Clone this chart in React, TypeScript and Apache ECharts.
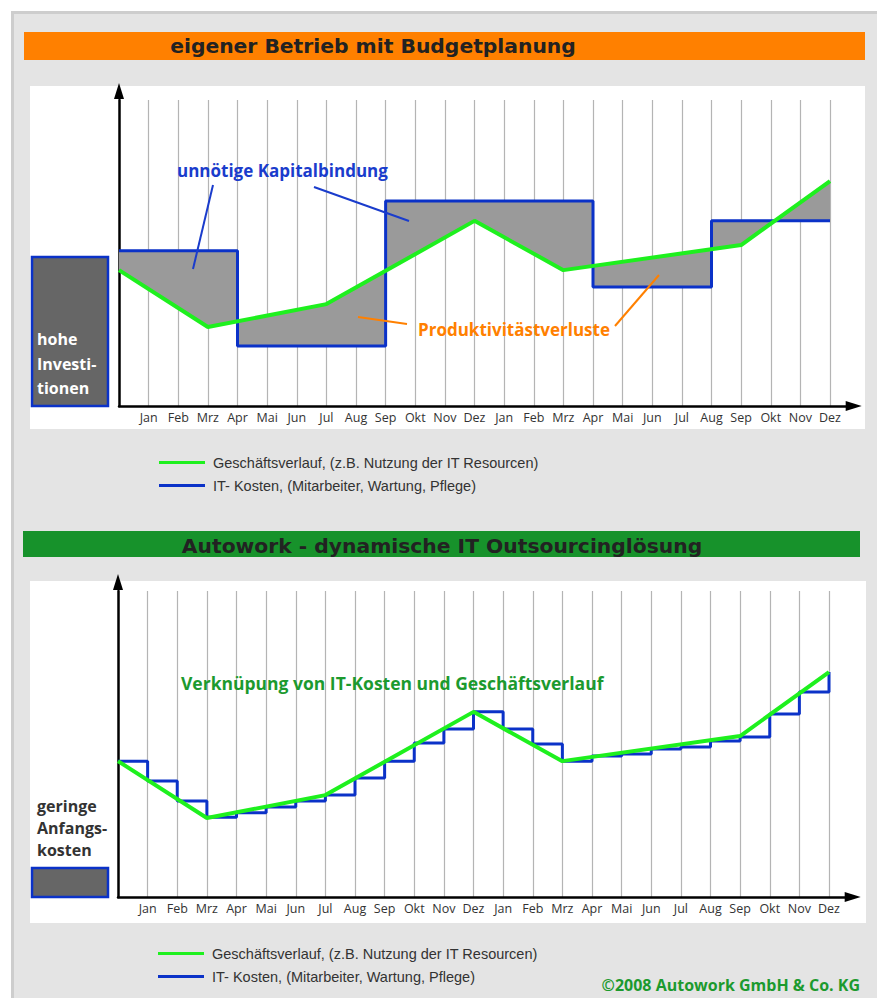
import React, { useEffect, useRef } from 'react';
import * as echarts from 'echarts';

// ---- data ----
const months = ['Jan', 'Feb', 'Mrz', 'Apr', 'Mai', 'Jun', 'Jul', 'Aug', 'Sep', 'Okt', 'Nov', 'Dez'];
const monthLabels = [...months, ...months];

// Geschäftsverlauf (same curve in both charts): month index -> level
const trendX = [0, 3, 7, 12, 15, 21, 24];
const trendY = [44.4, 25.8, 33.3, 60.5, 44.4, 52.6, 73.5];

// IT-Kosten with budget planning (step levels starting at given month index)
const budgetX = [0, 4, 9, 16, 20, 24];
const budgetY = [50.7, 19.6, 67.0, 38.9, 60.5, 60.5];

// IT-Kosten with Autowork (monthly steps, index 0..24)
const dynamicY = [44.4, 37.9, 31.4, 26.1, 27.5, 29.4, 31.4, 33.3, 38.9, 44.4, 50.3, 54.9, 60.5,
  54.9, 50.0, 44.4, 46.1, 46.7, 48.4, 49.0, 51.0, 52.3, 59.8, 67.0, 73.5];

const nameTrend = 'Geschäftsverlauf, (z.B. Nutzung der IT Resourcen)';
const nameCost = 'IT- Kosten, (Mitarbeiter, Wartung, Pflege)';

const GREEN = '#1ef01e';
const BLUE = '#0b32c8';
const ORANGE = '#ff8000';
const FONT = '"Open Sans", "DejaVu Sans", sans-serif';
const TFONT = '"DejaVu Sans", "Open Sans", sans-serif';

const X_MAX = 24.8;
const UNIT = 29.625;

function makeX(gridIndex: number) {
  return {
    type: 'value', gridIndex, min: 0, max: X_MAX, interval: 1,
    axisLine: {
      show: true, onZero: false,
      lineStyle: { color: '#000', width: 2.5 },
      symbol: ['none', 'triangle'], symbolSize: [10, 16], symbolOffset: [0, 0],
    },
    axisTick: { show: false },
    splitLine: { show: true, showMinLine: false, showMaxLine: false, lineStyle: { color: '#b4b4b4', width: 1.2 } },
    axisLabel: {
      color: '#333', fontSize: 12.5, fontFamily: FONT, margin: 5,
      formatter: (v: number) => (Number.isInteger(v) && v >= 1 && v <= 24 ? monthLabels[v - 1] : ''),
    },
  };
}
function makeY(gridIndex: number) {
  return {
    type: 'value', gridIndex, min: 0, max: 100,
    axisLine: {
      show: true, onZero: false,
      lineStyle: { color: '#000', width: 2.5 },
      symbol: ['none', 'triangle'], symbolSize: [10, 16], symbolOffset: [0, 9],
    },
    axisTick: { show: false }, axisLabel: { show: false }, splitLine: { show: false },
  };
}

function txt(text: string, x: number, y: number, font: string, fill: string, align = 'left', z = 100) {
  return {
    type: 'text', z, x: 0, y: 0,
    style: { text, x, y, font, fill, align, verticalAlign: 'middle', textAlign: align, textVerticalAlign: 'middle' },
  };
}
function rect(x: number, y: number, w: number, h: number, fill: string, z = -10, stroke?: string, lw = 0) {
  return { type: 'rect', z, shape: { x, y, width: w, height: h }, style: stroke ? { fill, stroke, lineWidth: lw } : { fill } };
}
function ln(x1: number, y1: number, x2: number, y2: number, stroke: string, lw = 2) {
  return { type: 'line', z: 100, shape: { x1, y1, x2, y2 }, style: { stroke, lineWidth: lw } };
}

export default function App() {
  const ref = useRef<HTMLDivElement>(null);
  useEffect(() => {
    const chart = echarts.init(ref.current!, null, { renderer: 'svg' });

    const fillPts: number[][] = [];
    for (let i = 0; i < budgetX.length - 1; i++) {
      fillPts.push([budgetX[i], budgetY[i]]);
      fillPts.push([budgetX[i + 1], budgetY[i]]);
    }
    fillPts.push([budgetX[budgetX.length - 1], budgetY[budgetY.length - 1]]);
    for (let i = trendX.length - 1; i >= 0; i--) fillPts.push([trendX[i], trendY[i]]);

    const trendData = trendX.map((x, i) => [x, trendY[i]]);

    const legendBase = {
      orient: 'vertical', itemWidth: 46, itemHeight: 3, itemGap: 8, icon: 'rect', selectedMode: false,
      data: [nameTrend, nameCost],
      textStyle: { fontFamily: '"Liberation Sans", Arial, sans-serif', fontSize: 14.5, color: '#333', lineHeight: 14, padding: [0, 0, 0, 3] },
    };

    const option: any = {
      animation: false,
      backgroundColor: '#ffffff',
      grid: [
        { left: 119, top: 100, width: X_MAX * UNIT, height: 306 },
        { left: 118, top: 591, width: X_MAX * UNIT, height: 306 },
      ],
      xAxis: [makeX(0), makeX(1)],
      yAxis: [makeY(0), makeY(1)],
      legend: [
        { ...legendBase, left: 154, top: 450 },
        { ...legendBase, left: 153, top: 941 },
      ],
      series: [
        {
          type: 'custom', name: 'Differenz', xAxisIndex: 0, yAxisIndex: 0, data: [[0, 0]], z: 1,
          renderItem: (_p: any, api: any) => ({
            type: 'polygon',
            shape: { points: fillPts.map((p) => api.coord(p)) },
            style: { fill: '#9a9a9a' },
          }),
        },
        {
          type: 'line', name: nameCost, xAxisIndex: 0, yAxisIndex: 0, step: 'end', symbol: 'none', z: 3,
          color: BLUE, lineStyle: { color: BLUE, width: 3 },
          data: budgetX.map((x, i) => [x, budgetY[i]]),
        },
        {
          type: 'line', name: nameTrend, xAxisIndex: 0, yAxisIndex: 0, symbol: 'none', z: 4,
          color: GREEN, lineStyle: { color: GREEN, width: 4 },
          data: trendData,
        },
        {
          type: 'line', name: nameCost, xAxisIndex: 1, yAxisIndex: 1, step: 'end', symbol: 'none', z: 3,
          color: BLUE, lineStyle: { color: BLUE, width: 3 },
          data: dynamicY.map((v, i) => [i, v]),
        },
        {
          type: 'line', name: nameTrend, xAxisIndex: 1, yAxisIndex: 1, symbol: 'none', z: 4,
          color: GREEN, lineStyle: { color: GREEN, width: 4 },
          data: trendData,
        },
      ],
      graphic: {
        elements: [
          rect(11, 11, 866, 987, '#e4e4e4', -20),
          rect(11, 11, 866, 3, '#cdcdcd', -19),
          rect(11, 11, 3, 987, '#cdcdcd', -19),
          rect(24, 32, 841, 28, ORANGE, -18),
          rect(30, 86, 835, 343, '#ffffff', -18),
          rect(23, 531, 837, 26, '#17922b', -18),
          rect(30, 581, 836, 342, '#ffffff', -18),
          txt('eigener Betrieb mit Budgetplanung', 373, 46, `bold 20.3px ${TFONT}`, '#222', 'center'),
          txt('Autowork - dynamische IT Outsourcinglösung', 442, 546, `bold 20.3px ${TFONT}`, '#222', 'center'),
          // left boxes
          rect(32, 257, 76, 149, '#666666', 50, BLUE, 2.5),
          txt('hohe', 37, 339, `bold 16px ${FONT}`, '#ffffff'),
          txt('Investi-', 37, 364, `bold 16px ${FONT}`, '#ffffff'),
          txt('tionen', 37, 388, `bold 16px ${FONT}`, '#ffffff'),
          rect(32, 868, 76, 29, '#666666', 50, BLUE, 2.5),
          txt('geringe', 37, 806, `bold 16px ${FONT}`, '#333'),
          txt('Anfangs-', 37, 828, `bold 16px ${FONT}`, '#333'),
          txt('kosten', 37, 850, `bold 16px ${FONT}`, '#333'),
          // annotations
          txt('unnötige Kapitalbindung', 177, 170, `bold 17px ${FONT}`, '#1a3ccc'),
          ln(213, 185, 193, 269, '#1a3ccc'),
          ln(314, 187, 409, 221, '#1a3ccc'),
          txt('Produktivitästverluste', 418, 329, `bold 17px ${FONT}`, ORANGE),
          ln(358, 317, 407, 324, ORANGE),
          ln(615, 326, 659, 275, ORANGE),
          txt('Verknüpung von IT-Kosten und Geschäftsverlauf', 181, 683, `bold 17.5px ${FONT}`, '#1c9a2e'),
          txt('©2008 Autowork GmbH & Co. KG', 860, 985, `bold 16px ${FONT}`, '#1c9a2e', 'right'),
        ],
      },
    };
    chart.setOption(option);
    return () => chart.dispose();
  }, []);
  return <div ref={ref} style={{ position: 'absolute', left: 0, top: 0, width: 877, height: 998 }} />;
}
